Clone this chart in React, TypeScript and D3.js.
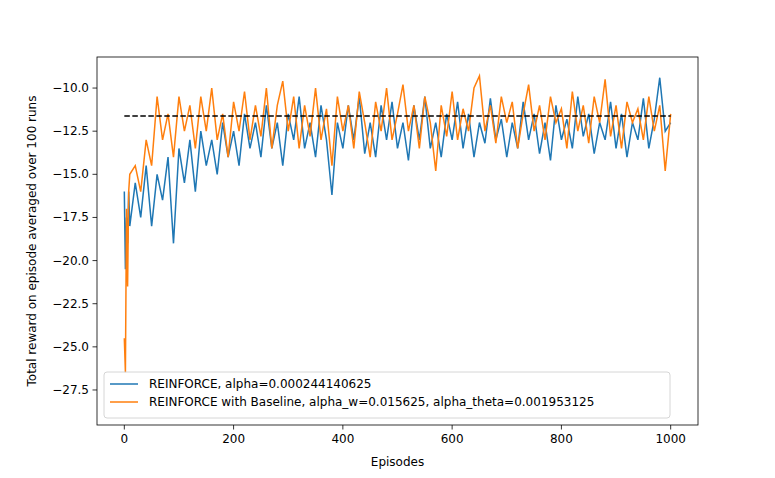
import * as d3 from "d3";

const episodes = [0, 2, 4, 6, 8, ...d3.range(10, 1001, 10)];

const reinforce = [
  -16, -20.5, -17.5, -19, -16,
  -18, -15.5, -17.5, -14.5, -18, -15, -16.5, -14, -19, -13.5,
  -15.5, -13, -16, -12.5, -14.5, -13, -15, -12, -14, -12.5,
  -14.5, -11.5, -13.5, -12, -14, -11, -13.5, -12, -14.5, -11.5,
  -13, -10.5, -13.5, -12, -14, -11, -13, -16.2, -12, -13.5,
  -11, -13, -10.5, -13.8, -12, -14, -11, -13, -10.8, -13.5,
  -12, -14.2, -11, -13, -10.5, -13.5, -12, -14, -11.5, -13,
  -10.8, -13.5, -11.5, -14, -12, -13.2, -10.6, -13, -11.8, -14,
  -12, -13.5, -10.8, -13, -11.5, -13.8, -12, -14.2, -11, -13,
  -11.8, -13.5, -10.5, -12.8, -11.5, -13.8, -12, -13, -10.8, -13.5,
  -11.5, -14, -12, -13, -10.6, -13.5, -11.8, -9.4, -12.5, -12,
];

const withBaseline = [
  -24.5, -26.5, -17, -21.5, -16,
  -15, -14.5, -16, -13, -14.5, -10.5, -13, -11.5, -14, -10.5,
  -12.5, -11, -13.5, -10.5, -12.5, -10, -13, -11.5, -14, -10.8,
  -12.5, -10.2, -13, -11, -12.8, -10, -13.5, -11, -9.6, -12.5,
  -10.5, -13.5, -11, -12.8, -10, -13, -11.2, -14.5, -10.5, -12.5,
  -11, -13.5, -10.2, -12, -14, -10.8, -12.5, -10, -13, -11.5,
  -9.8, -12.5, -11, -13.5, -10.5, -12, -14.8, -11, -12.8, -10.2,
  -13, -11.2, -12.5, -10, -9.3, -12.5, -11, -13.2, -10.5, -12,
  -10.8, -13.5, -11.5, -9.8, -12.5, -11, -13, -10.5, -12, -11.2,
  -13.5, -10.2, -12.5, -11, -13.2, -10.5, -12, -9.5, -12.8, -11,
  -13.5, -10.8, -12, -11.2, -13, -10.5, -12.5, -11, -14.8, -11.5,
];

const optimal = -11.62;
const xTicks = [0, 200, 400, 600, 800, 1000];
const yTicks = [-10, -12.5, -15, -17.5, -20, -22.5, -25, -27.5];
const labels = [
  "REINFORCE, alpha=0.000244140625",
  "REINFORCE with Baseline, alpha_w=0.015625, alpha_theta=0.001953125",
];
const colors = ["#1f77b4", "#ff7f0e"];

export default function App() {
  const left = 97, right = 698, top = 57, bottom = 425;
  const x = d3.scaleLinear().domain([-50, 1050]).range([left, right]);
  const y = d3.scaleLinear().domain([-29.53, -8.2]).range([bottom, top]);
  const line = d3
    .line<number>()
    .x((_, i) => x(episodes[i]))
    .y((d) => y(d));
  const font = "DejaVu Sans, sans-serif";

  return (
    <svg width={775} height={478} style={{ position: "absolute", left: 0, top: 0 }} fontFamily={font}>
      <rect width={775} height={478} fill="#fff" />
      <path d={line(reinforce) ?? ""} fill="none" stroke={colors[0]} strokeWidth={1.5} />
      <path d={line(withBaseline) ?? ""} fill="none" stroke={colors[1]} strokeWidth={1.5} />
      <line x1={x(0)} x2={x(1000)} y1={y(optimal)} y2={y(optimal)} stroke="#000" strokeWidth={1.5} strokeDasharray="5.5,2.5" />
      <rect x={left} y={top} width={right - left} height={bottom - top} fill="none" stroke="#000" strokeWidth={0.8} />
      {xTicks.map((t) => (
        <g key={t}>
          <line x1={x(t)} x2={x(t)} y1={bottom} y2={bottom + 4.5} stroke="#000" strokeWidth={0.8} />
          <text x={x(t)} y={bottom + 18} fontSize={12} textAnchor="middle">{t}</text>
        </g>
      ))}
      {yTicks.map((t) => (
        <g key={t}>
          <line x1={left - 4.5} x2={left} y1={y(t)} y2={y(t)} stroke="#000" strokeWidth={0.8} />
          <text x={left - 8} y={y(t) + 4} fontSize={12} textAnchor="end">{"\u2212" + Math.abs(t).toFixed(1)}</text>
        </g>
      ))}
      <text x={(left + right) / 2} y={466} fontSize={12} textAnchor="middle">Episodes</text>
      <text transform={`translate(36,${(top + bottom) / 2}) rotate(-90)`} fontSize={12} textAnchor="middle">
        Total reward on episode averaged over 100 runs
      </text>
      <rect x={104} y={372} width={566} height={46} rx={3} fill="#fff" fillOpacity={0.8} stroke="#ccc" strokeWidth={0.8} />
      {labels.map((l, i) => (
        <g key={l}>
          <line x1={110} x2={138} y1={384 + i * 18} y2={384 + i * 18} stroke={colors[i]} strokeWidth={1.5} />
          <text x={149} y={388 + i * 18} fontSize={12}>{l}</text>
        </g>
      ))}
    </svg>
  );
}
